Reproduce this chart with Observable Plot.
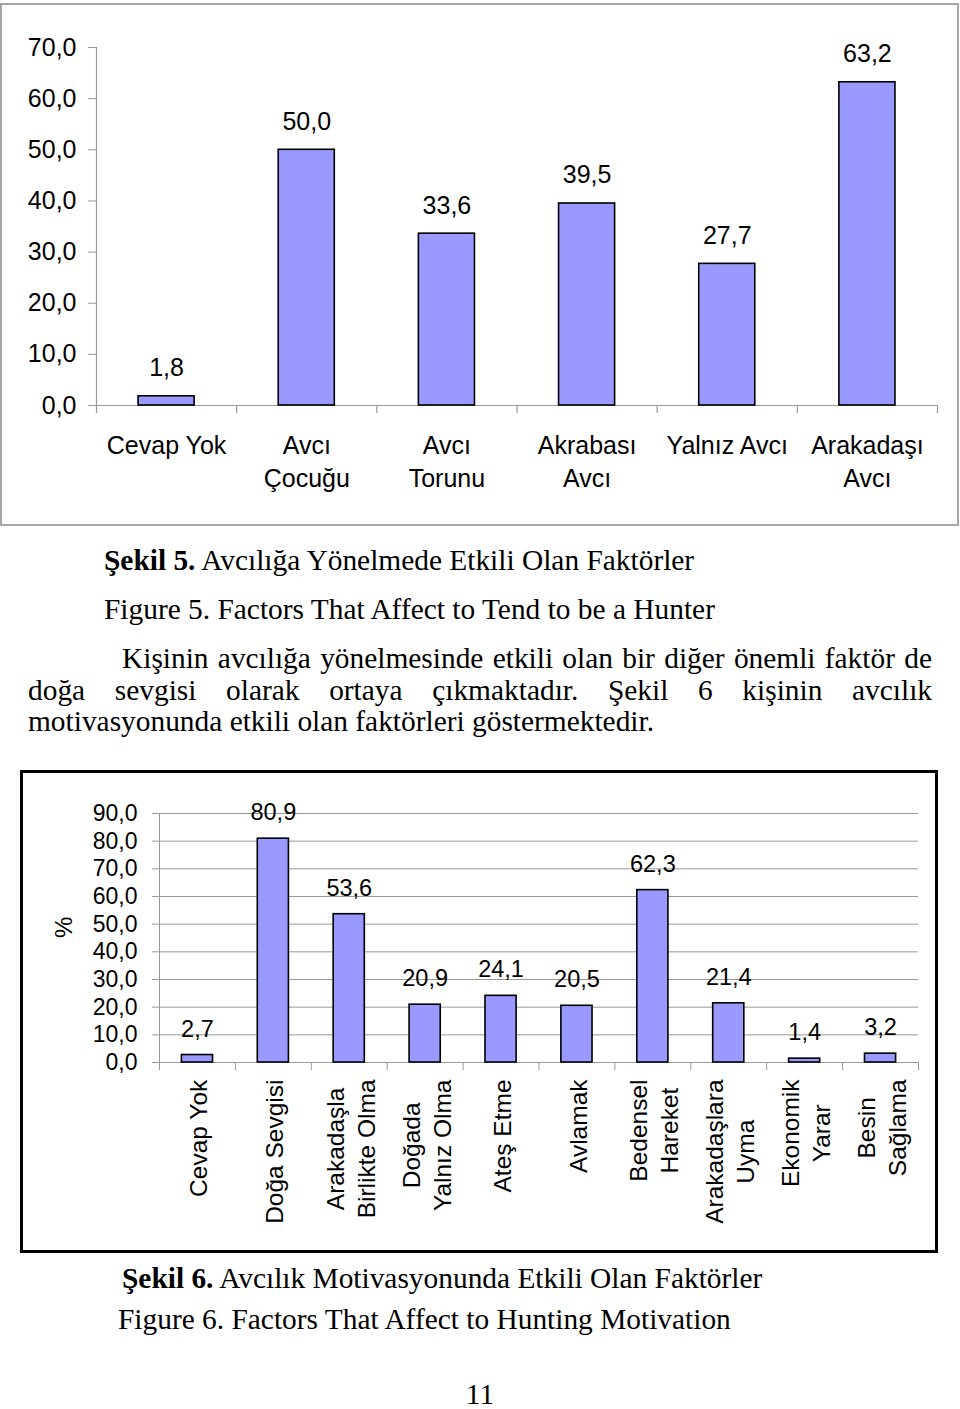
<!DOCTYPE html>
<html>
<head>
<meta charset="utf-8">
<script src="https://cdn.jsdelivr.net/npm/d3@7"></script>
<script src="https://cdn.jsdelivr.net/npm/@observablehq/plot@0.6"></script>
<style>
  html, body { margin: 0; padding: 0; background: #fff; }
  body { width: 960px; height: 1409px; position: relative; overflow: hidden;
         font-family: "Liberation Serif", "Times New Roman", serif; color: #000; }
  .abs { position: absolute; }
  .t { font-size: 29.4px; line-height: 29.4px; white-space: nowrap; }
  .j { text-align: justify; text-align-last: justify; white-space: nowrap; }
  #box1 { left: 0; top: 3px; width: 955px; height: 519px; border: 2px solid #a6a6a6; }
  #box2 { left: 20px; top: 770px; width: 912px; height: 477px; border: 3px solid #000; }
  #c1 { left: 0; top: 0; }
  #c2 { left: 0; top: 760px; }
  svg { overflow: visible; }
</style>
</head>
<body>
<div id="box1" class="abs"></div>
<div id="box2" class="abs"></div>
<div id="c1" class="abs"></div>
<div id="c2" class="abs"></div>

<div class="abs t" style="left:104px;top:546px;"><b>Şekil 5.</b> Avcılığa Yönelmede Etkili Olan Faktörler</div>
<div class="abs t" style="left:104px;top:595px;">Figure 5. Factors That Affect to Tend to be a Hunter</div>
<div class="abs t j" style="left:122px;top:644px;width:810px;">Kişinin avcılığa yönelmesinde etkili olan bir diğer önemli faktör de</div>
<div class="abs t j" style="left:28px;top:676px;width:904px;">doğa sevgisi olarak ortaya çıkmaktadır. Şekil 6 kişinin avcılık</div>
<div class="abs t" style="left:28px;top:707px;">motivasyonunda etkili olan faktörleri göstermektedir.</div>
<div class="abs t" style="left:122px;top:1264px;"><b>Şekil 6.</b> Avcılık Motivasyonunda Etkili Olan Faktörler</div>
<div class="abs t" style="left:118px;top:1305px;">Figure 6. Factors That Affect to Hunting Motivation</div>
<div class="abs t" style="left:0;width:960px;text-align:center;top:1380px;">11</div>

<script>
// ---- Data: Figure 5 ----
const cats5 = ["Cevap Yok", "Avcı\nÇocuğu", "Avcı\nTorunu", "Akrabası\nAvcı", "Yalnız Avcı", "Arakadaşı\nAvcı"];
const vals5 = [1.8, 50.0, 33.6, 39.5, 27.7, 63.2];
const ticks5 = [0, 10, 20, 30, 40, 50, 60, 70];

// ---- Data: Figure 6 ----
const cats6 = ["Cevap Yok", "Doğa Sevgisi", "Arakadaşla\nBirlikte Olma", "Doğada\nYalnız Olma", "Ateş Etme",
               "Avlamak", "Bedensel\nHareket", "Arakadaşlara\nUyma", "Ekonomik\nYarar", "Besin\nSağlama"];
const vals6 = [2.7, 80.9, 53.6, 20.9, 24.1, 20.5, 62.3, 21.4, 1.4, 3.2];
const ticks6 = [0, 10, 20, 30, 40, 50, 60, 70, 80, 90];

const fmt = d => d.toFixed(1).replace(".", ",");
const SANS = "Liberation Sans, Arial, sans-serif";
const BAR = "#9999ff";
const AX = "#999999";

// ---- Chart 1 ----
{
  const W = 960, H = 530, ml = 96, mr = 23, mt = 47, mb = 125;
  const step = (W - ml - mr) / cats5.length;
  const data = cats5.map((c, i) => ({c, v: vals5[i]}));
  const chart = Plot.plot({
    width: W, height: H, marginLeft: ml, marginRight: mr, marginTop: mt, marginBottom: mb,
    style: {fontFamily: SANS, background: "transparent", color: "#000"},
    x: {domain: cats5, paddingInner: 0.6, paddingOuter: 0.3, round: false, axis: null},
    y: {domain: [0, 70], axis: null},
    marks: [
      Plot.ruleY([0], {stroke: AX, strokeWidth: 1.2}),
      Plot.ruleX([cats5[0]], {x: d => d, y1: 0, y2: 70, dx: -step / 2, stroke: AX, strokeWidth: 1.2}),
      Plot.ruleX(cats5, {x: d => d, y1: 0, y2: 0, insetBottom: -8, dx: -step / 2, stroke: AX, strokeWidth: 1.2}),
      Plot.ruleX([cats5[cats5.length - 1]], {x: d => d, y1: 0, y2: 0, insetBottom: -8, dx: step / 2, stroke: AX, strokeWidth: 1.2}),
      Plot.axisY({ticks: ticks5, tickSize: 8, tickPadding: 12, tickFormat: fmt, fontSize: 25, stroke: AX, fill: "#000", label: null}),
      Plot.barY(data, {x: "c", y: "v", fill: BAR, stroke: "#000", strokeWidth: 1.6}),
      Plot.text(data, {x: "c", y: "v", text: d => fmt(d.v), dy: -28, lineAnchor: "middle", fontSize: 25, fill: "#000"}),
      Plot.axisX({tickSize: 0, tickPadding: 25, fontSize: 25, lineHeight: 1.32, fill: "#000", label: null})
    ]
  });
  document.getElementById("c1").appendChild(chart);
}

// ---- Chart 2 ----
{
  const W = 960, H = 500, ml = 159, mr = 42, mt = 53, mb = 198;
  const step = (W - ml - mr) / cats6.length;
  const data = cats6.map((c, i) => ({c, v: vals6[i]}));
  const fs = 24.5;
  const ctx = document.createElement("canvas").getContext("2d");
  ctx.font = `${fs}px "Liberation Sans"`;
  const blockW = c => Math.max(...c.split("\n").map(s => ctx.measureText(s).width));
  const labels = cats6.map(c => Plot.text([c], {
    x: d => d, frameAnchor: "bottom", rotate: -90, textAnchor: "middle", lineAnchor: "middle",
    lineHeight: 1.265, fontSize: fs, fill: "#000", dy: 17 + blockW(c) / 2
  }));
  const chart = Plot.plot({
    width: W, height: H, marginLeft: ml, marginRight: mr, marginTop: mt, marginBottom: mb,
    style: {fontFamily: SANS, background: "transparent", color: "#000"},
    x: {domain: cats6, paddingInner: 0.59, paddingOuter: 0.295, round: false, axis: null},
    y: {domain: [0, 90], axis: null},
    marks: [
      Plot.ruleY(ticks6, {stroke: AX, strokeWidth: 1}),
      Plot.ruleX([cats6[0]], {x: d => d, y1: 0, y2: 90, dx: -step / 2, stroke: AX, strokeWidth: 1}),
      Plot.ruleX(cats6, {x: d => d, y1: 0, y2: 0, insetBottom: -8, dx: -step / 2, stroke: AX, strokeWidth: 1}),
      Plot.ruleX([cats6[cats6.length - 1]], {x: d => d, y1: 0, y2: 0, insetBottom: -8, dx: step / 2, stroke: AX, strokeWidth: 1}),
      Plot.axisY({ticks: ticks6, tickSize: 7, tickPadding: 15, tickFormat: fmt, fontSize: 23, stroke: AX, fill: "#000", label: null}),
      Plot.barY(data, {x: "c", y: "v", fill: BAR, stroke: "#000", strokeWidth: 1.6}),
      Plot.text(data, {x: "c", y: "v", text: d => fmt(d.v), dy: -26, lineAnchor: "middle", fontSize: 23.5, fill: "#000"}),
      ...labels,
      Plot.text(["%"], {frameAnchor: "left", dx: -95, rotate: -90, lineAnchor: "middle", fontSize: 24, fill: "#000"})
    ]
  });
  document.getElementById("c2").appendChild(chart);
}
</script>
</body>
</html>
